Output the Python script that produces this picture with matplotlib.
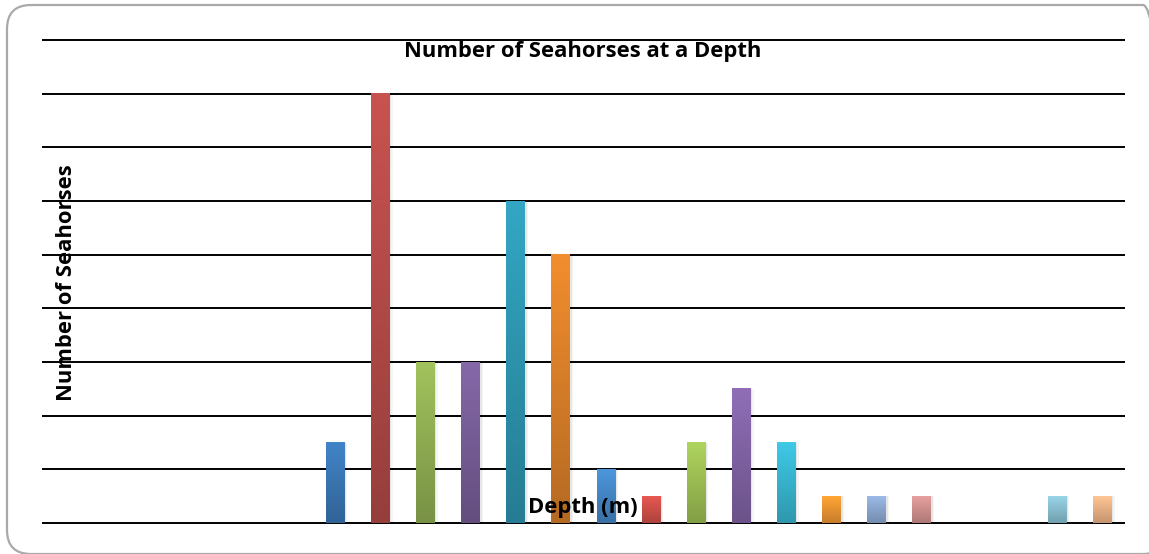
import matplotlib
matplotlib.use("Agg")
import matplotlib.pyplot as plt
import numpy as np
from matplotlib.colors import LinearSegmentedColormap, to_rgb
from matplotlib.patches import FancyBboxPatch
from matplotlib.transforms import IdentityTransform

# ---- data ----
depths = ["1", "2", "3", "4", "5", "6", "7", "8", "9", "10", "11", "12",
          "13", "14", "15", "16", "17", "18", "19", "20", "21", "22", "23", "24"]
seahorses = [0, 0, 0, 0, 0, 0, 3, 16, 6, 6, 12, 10,
             2, 1, 3, 5, 3, 1, 1, 1, 0, 0, 1, 1]
bar_colors = ["#4F81BD", "#C0504D", "#9BBB59", "#8064A2", "#4BACC6", "#F79646",
              "#3F7FC0", "#C0504D", "#9BBB59", "#8064A2", "#31A0BC", "#E8882C",
              "#4A90D4", "#DE554E", "#A8CC5A", "#8A6AB0", "#3CC2DE", "#FFA035",
              "#95B3DE", "#DE9A98", "#C3D69B", "#B3A2C7", "#92CDDF", "#FDBE8E"]
title = "Number of Seahorses at a Depth"
xlabel = "Depth (m)"
ylabel = "Number of Seahorses"

W, H = 1149, 554
fig = plt.figure(figsize=(W / 100, H / 100), dpi=100)
fig.patch.set_facecolor("white")

# rounded chart frame
frame = FancyBboxPatch((7, 0), 1160, 549,
                       boxstyle="round,pad=0,rounding_size=24",
                       transform=IdentityTransform(), facecolor="none",
                       edgecolor="#A9A9A9", linewidth=1.6)
fig.patches.append(frame)

ax = fig.add_axes([42 / W, 1 - 523 / H, 1083 / W, 483 / H])
ax.set_facecolor("none")
for s in ax.spines.values():
    s.set_visible(False)

x = np.arange(len(depths))
bw = 0.42

# gridlines
for gy in range(0, 19, 2):
    ax.axhline(gy, color="black", linewidth=1.4, zorder=1, clip_on=False,
               solid_capstyle="butt")

grad = np.linspace(0, 1, 64).reshape(-1, 1)
for xi, v, c in zip(x, seahorses, bar_colors):
    if v <= 0:
        continue
    base = np.array(to_rgb(c))
    dark = np.clip(base * 0.78, 0, 1)
    light = np.clip(base * 1.04, 0, 1)
    cmap = LinearSegmentedColormap.from_list("g", [dark, light])
    # soft shadow
    for dx, a in ((0.03, 0.06), (0.06, 0.04)):
        ax.bar(xi + dx, v, width=bw, color="#000000", alpha=a, zorder=2,
               linewidth=0)
    ax.imshow(grad, extent=(xi - bw / 2, xi + bw / 2, 0, v), origin="lower",
              aspect="auto", cmap=cmap, zorder=3, interpolation="bilinear")

ax.set_xlim(-0.5, len(depths) - 0.5)
ax.set_ylim(0, 18)
ax.set_xticks([])
ax.set_yticks([])

fam = ["Open Sans", "DejaVu Sans"]
fs = 15.8
fig.text(583 / W, 1 - 51 / H, title, ha="center", va="center",
         fontsize=fs, fontweight="bold", family=fam, zorder=10)
fig.text(583 / W, 1 - 508 / H, xlabel, ha="center", va="center",
         fontsize=fs, fontweight="bold", family=fam, zorder=10)
fig.text(66 / W, 1 - 283 / H, ylabel, ha="center", va="center", rotation=90,
         fontsize=fs, fontweight="bold", family=fam, zorder=10)

fig.savefig("out.png", dpi=100, facecolor="white")
